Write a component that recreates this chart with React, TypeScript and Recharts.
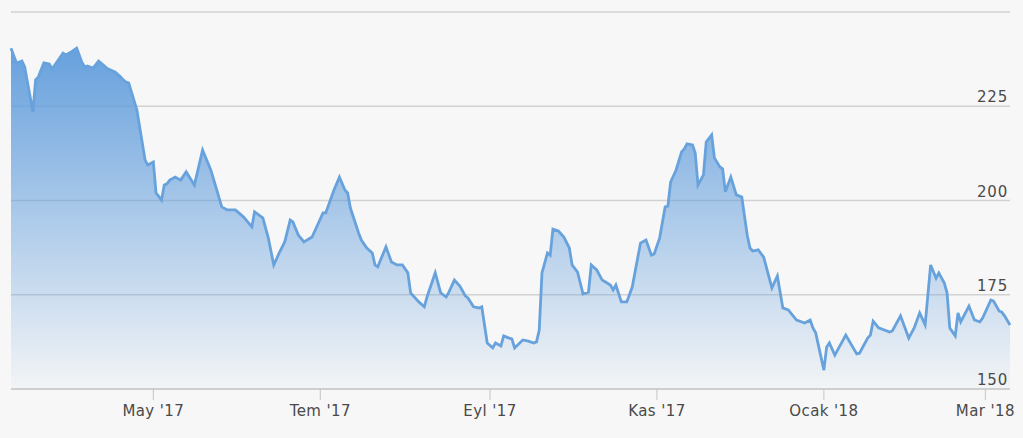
import { Area, AreaChart, CartesianGrid, XAxis, YAxis } from "recharts";

// Daily closes, Mar 2017 - Mar 2018
const dates = [
  "2017-03-10", "2017-03-12", "2017-03-13", "2017-03-14", "2017-03-15", "2017-03-18", "2017-03-19", "2017-03-20",
  "2017-03-22", "2017-03-24", "2017-03-25", "2017-03-29", "2017-03-30", "2017-04-01", "2017-04-03", "2017-04-05",
  "2017-04-06", "2017-04-07", "2017-04-09", "2017-04-11", "2017-04-14", "2017-04-16", "2017-04-17", "2017-04-19",
  "2017-04-20", "2017-04-21", "2017-04-22", "2017-04-25", "2017-04-28", "2017-04-29", "2017-05-01", "2017-05-02",
  "2017-05-04", "2017-05-05", "2017-05-06", "2017-05-07", "2017-05-09", "2017-05-11", "2017-05-13", "2017-05-16",
  "2017-05-19", "2017-05-22", "2017-05-26", "2017-05-28", "2017-05-31", "2017-06-03", "2017-06-06", "2017-06-07",
  "2017-06-10", "2017-06-12", "2017-06-14", "2017-06-16", "2017-06-18", "2017-06-20", "2017-06-21", "2017-06-23",
  "2017-06-25", "2017-06-28", "2017-06-30", "2017-07-02", "2017-07-03", "2017-07-06", "2017-07-08", "2017-07-10",
  "2017-07-11", "2017-07-12", "2017-07-15", "2017-07-16", "2017-07-18", "2017-07-20", "2017-07-21", "2017-07-22",
  "2017-07-25", "2017-07-27", "2017-07-29", "2017-07-31", "2017-08-02", "2017-08-03", "2017-08-06", "2017-08-08",
  "2017-08-09", "2017-08-12", "2017-08-14", "2017-08-16", "2017-08-17", "2017-08-19", "2017-08-21", "2017-08-23",
  "2017-08-24", "2017-08-26", "2017-08-28", "2017-08-29", "2017-08-31", "2017-09-02", "2017-09-03", "2017-09-05",
  "2017-09-06", "2017-09-08", "2017-09-09", "2017-09-10", "2017-09-13", "2017-09-15", "2017-09-17", "2017-09-18",
  "2017-09-19", "2017-09-20", "2017-09-22", "2017-09-23", "2017-09-24", "2017-09-26", "2017-09-28", "2017-09-30",
  "2017-10-01", "2017-10-03", "2017-10-05", "2017-10-07", "2017-10-08", "2017-10-10", "2017-10-12", "2017-10-15",
  "2017-10-16", "2017-10-17", "2017-10-19", "2017-10-21", "2017-10-23", "2017-10-24", "2017-10-26", "2017-10-28",
  "2017-10-30", "2017-10-31", "2017-11-02", "2017-11-04", "2017-11-05", "2017-11-06", "2017-11-08", "2017-11-10",
  "2017-11-11", "2017-11-12", "2017-11-14", "2017-11-15", "2017-11-16", "2017-11-18", "2017-11-19", "2017-11-21",
  "2017-11-22", "2017-11-24", "2017-11-25", "2017-11-26", "2017-11-28", "2017-11-30", "2017-12-02", "2017-12-04",
  "2017-12-05", "2017-12-06", "2017-12-08", "2017-12-10", "2017-12-13", "2017-12-15", "2017-12-17", "2017-12-19",
  "2017-12-22", "2017-12-25", "2017-12-27", "2017-12-28", "2017-12-29", "2018-01-01", "2018-01-02", "2018-01-03",
  "2018-01-05", "2018-01-09", "2018-01-13", "2018-01-14", "2018-01-17", "2018-01-18", "2018-01-19", "2018-01-21",
  "2018-01-25", "2018-01-26", "2018-01-29", "2018-02-01", "2018-02-03", "2018-02-05", "2018-02-07", "2018-02-09",
  "2018-02-11", "2018-02-12", "2018-02-14", "2018-02-15", "2018-02-16", "2018-02-18", "2018-02-19", "2018-02-20",
  "2018-02-23", "2018-02-25", "2018-02-27", "2018-02-28", "2018-03-03", "2018-03-04", "2018-03-06", "2018-03-07",
  "2018-03-08", "2018-03-10",
];

const closes = [
  240.4, 236.5, 236.7, 237.0, 235.4, 223.5, 232.0, 232.8,
  236.5, 236.2, 234.9, 239.1, 238.6, 239.4, 240.4, 236.5,
  235.4, 235.7, 235.1, 237.0, 235.1, 234.4, 234.1, 232.8,
  232.0, 231.4, 231.2, 224.0, 210.7, 209.4, 210.2, 202.0,
  200.1, 204.1, 204.4, 205.4, 206.2, 205.4, 207.6, 204.1,
  213.4, 208.1, 198.3, 197.5, 197.5, 195.6, 193.0, 197.0,
  195.4, 190.1, 182.9, 186.1, 189.0, 194.8, 194.3, 190.8,
  189.0, 190.3, 193.5, 196.7, 196.7, 202.8, 206.2, 202.8,
  202.0, 198.0, 191.4, 189.5, 187.4, 186.1, 182.9, 182.4,
  187.7, 183.7, 182.9, 182.9, 180.8, 175.5, 173.1, 171.8,
  174.4, 180.8, 175.5, 174.4, 175.7, 178.9, 177.3, 174.7,
  174.1, 171.8, 171.5, 171.8, 162.2, 160.9, 162.2, 161.4,
  164.1, 163.5, 163.3, 160.9, 163.0, 162.7, 162.2, 162.5,
  165.6, 180.8, 186.1, 185.5, 192.4, 191.9, 190.3, 187.4,
  182.9, 181.0, 175.2, 175.7, 182.9, 181.6, 178.9, 177.6,
  176.3, 177.6, 173.1, 173.1, 177.1, 181.0, 188.7, 189.5,
  185.5, 185.8, 190.1, 198.3, 198.5, 204.9, 208.1, 212.9,
  213.7, 215.0, 214.7, 212.6, 204.1, 206.8, 215.5, 217.4,
  211.3, 208.9, 208.4, 202.3, 206.2, 201.5, 200.9, 190.8,
  187.4, 186.6, 186.9, 185.0, 176.8, 180.0, 171.5, 171.0,
  168.3, 167.5, 168.3, 166.2, 164.9, 155.0, 161.1, 162.2,
  159.0, 164.3, 159.3, 159.5, 163.5, 164.3, 168.0, 166.2,
  165.1, 165.4, 169.4, 163.5, 166.2, 170.2, 167.0, 182.9,
  179.4, 180.8, 178.1, 175.5, 166.2, 164.1, 170.2, 167.8,
  172.0, 168.3, 167.8, 168.8, 173.6, 173.3, 170.7, 170.4,
  169.4, 167.0,
];

const tickDates = ["2017-05-01", "2017-07-01", "2017-09-01", "2017-11-01", "2018-01-01", "2018-03-01"];
const tickLabels = ["May '17", "Tem '17", "Eyl '17", "Kas '17", "Ocak '18", "Mar '18"];
const yTicks = [150, 175, 200, 225, 250];

const toTime = (s: string) => Date.parse(s + "T00:00:00Z");

const data = dates.map((d, i) => ({ t: toTime(d), close: closes[i] }));
const xTicks = tickDates.map(toTime);
const labelByTime = new Map(xTicks.map((t, i) => [t, tickLabels[i]]));

const FONT = "DejaVu Sans";
const TEXT = "#4a4a4a";
const LINE = "#68a2dc";

// y labels sit inside the plot, right aligned just above their grid line; top one hidden
const renderYTick = (props: any) => {
  const { y, payload } = props;
  if (payload.value === 250) return <g />;
  return (
    <text x={1008} y={y - 4} textAnchor="end" fill={TEXT} fontSize={15} fontFamily={FONT} letterSpacing={0.8}>
      {payload.value}
    </text>
  );
};

export default function App() {
  return (
    <div style={{ position: "absolute", left: 0, top: 0, width: 1023, height: 438, background: "#f7f7f7", fontFamily: FONT }}>
      <AreaChart width={1023} height={438} data={data} margin={{ top: 12, right: 12, bottom: 9, left: 11 }}>
        <defs>
          <linearGradient id="fillGrad" x1="0" y1="0" x2="0" y2="1">
            <stop offset="0%" stopColor="#5f9cdc" stopOpacity={0.95} />
            <stop offset="100%" stopColor="#5f9cdc" stopOpacity={0.03} />
          </linearGradient>
        </defs>
        <CartesianGrid vertical={false} stroke="#d2d2d2" strokeWidth={1.3} />
        <XAxis
          dataKey="t"
          type="number"
          scale="time"
          domain={[toTime("2017-03-10"), toTime("2018-03-10")]}
          ticks={xTicks}
          tickFormatter={(t: number) => labelByTime.get(t) ?? ""}
          height={40}
          stroke="#c4c4c4"
          tickSize={11}
          tickMargin={5}
          tick={{ fill: TEXT, fontSize: 15, fontFamily: FONT, letterSpacing: 0.4 }}
        />
        <YAxis
          orientation="right"
          domain={[150, 250]}
          ticks={yTicks}
          interval={0}
          width={1}
          axisLine={false}
          tickLine={false}
          tick={renderYTick}
        />
        <Area
          type="linear"
          dataKey="close"
          stroke={LINE}
          strokeWidth={2.8}
          fill="url(#fillGrad)"
          fillOpacity={1}
          dot={false}
          activeDot={false}
          isAnimationActive={false}
        />
      </AreaChart>
    </div>
  );
}
